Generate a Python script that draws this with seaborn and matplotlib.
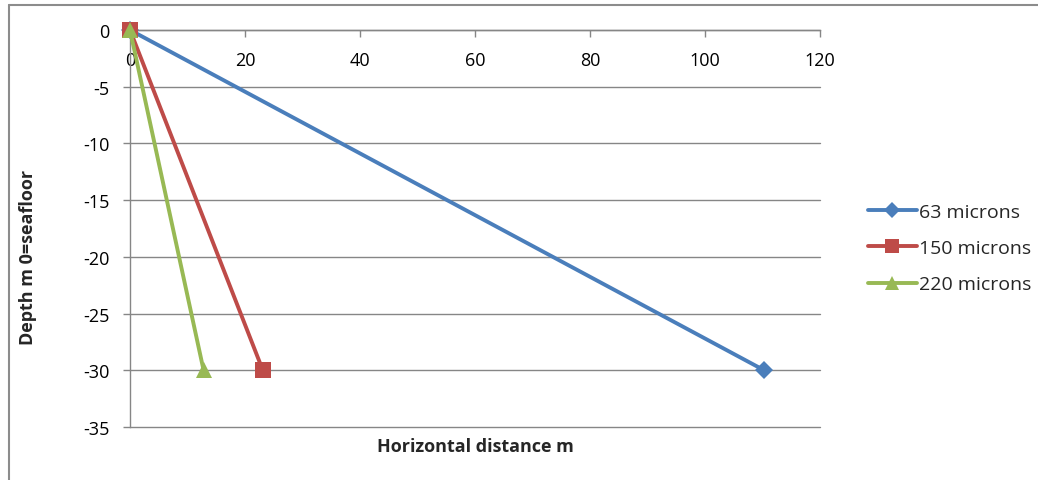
import matplotlib
matplotlib.use("Agg")
import matplotlib.pyplot as plt
import seaborn as sns
import pandas as pd
from matplotlib.lines import Line2D

# Settling paths of sand grains by size
series_names = ["63 microns", "150 microns", "220 microns"]
start_distance = [0.0, 0.0, 0.0]
end_distance = [110.3, 23.1, 12.8]
start_depth = [0, 0, 0]
end_depth = [-30, -30, -30]

x_ticks = [0, 20, 40, 60, 80, 100, 120]
y_ticks = [0, -5, -10, -15, -20, -25, -30, -35]

rows = []
for name, x0, x1, y0, y1 in zip(series_names, start_distance, end_distance,
                                start_depth, end_depth):
    rows.append({"size": name, "distance": x0, "depth": y0})
    rows.append({"size": name, "distance": x1, "depth": y1})
df = pd.DataFrame(rows)

sns.set_theme(style="white")
plt.rcParams["font.family"] = ["Open Sans", "DejaVu Sans"]

palette = {"63 microns": "#4A7EBB", "150 microns": "#BE4B48", "220 microns": "#98B954"}
markers = {"63 microns": "D", "150 microns": "s", "220 microns": "^"}
msizes = {"63 microns": 9, "150 microns": 12, "220 microns": 12}

fig = plt.figure(figsize=(10.38, 4.81), dpi=100)
ax = fig.add_axes([130 / 1038, 53 / 481, 690 / 1038, 397 / 481])

grid_color = "#868686"
for yv in y_ticks:
    ax.axhline(yv, color=grid_color, lw=1.0, zorder=0)

for name in series_names:
    sub = df[df["size"] == name]
    sns.lineplot(data=sub, x="distance", y="depth", color=palette[name],
                 marker=markers[name], markersize=msizes[name],
                 markeredgewidth=0, linewidth=2.8, ax=ax, label=name,
                 sort=False, estimator=None, zorder=3)

ax.set_xlim(0, 120)
ax.set_ylim(-35, 0)
ax.set_xticks(x_ticks)
ax.set_yticks(y_ticks)
ax.set_xticklabels([str(v) for v in x_ticks])
ax.set_yticklabels([str(v) for v in y_ticks])

for s in ["top", "right"]:
    ax.spines[s].set_visible(False)
ax.spines["bottom"].set_position(("data", 0))
ax.spines["bottom"].set_color(grid_color)
ax.spines["left"].set_color(grid_color)
ax.spines["bottom"].set_linewidth(1.0)
ax.spines["left"].set_linewidth(1.0)
for ln in ax.lines:
    ln.set_clip_on(False)

ax.tick_params(axis="x", direction="out", length=5, width=1, color=grid_color,
               pad=10, labelsize=13, labelcolor="black", bottom=True)
ax.tick_params(axis="y", direction="out", length=5, width=1, color=grid_color,
               pad=10, labelsize=13, labelcolor="black", left=True)

ax.set_xlabel("Horizontal distance m", fontsize=13, fontweight="bold")
ax.set_ylabel("Depth m 0=seafloor", fontsize=13, fontweight="bold")
ax.xaxis.set_label_coords(0.5, -0.025)
ax.yaxis.set_label_coords(-0.135, 0.43)

handles = [Line2D([0], [0], color=palette[n], lw=2.8, marker=markers[n],
                  markersize=msizes[n] * 0.85, markeredgewidth=0)
           for n in series_names]
leg = ax.legend(handles, series_names, loc="center left",
                bbox_to_anchor=(868 / 1038, 232 / 481),
                bbox_transform=fig.transFigure, frameon=False, fontsize=14,
                handlelength=2.5, handletextpad=0.1, labelspacing=0.95,
                borderpad=0, borderaxespad=0)

# Chart border: only the top and left edges fall inside the image
fig.add_artist(Line2D([9 / 1038, 9 / 1038], [0, 1 - 6 / 481],
                      transform=fig.transFigure, color="#8c8c8c", lw=1.5))
fig.add_artist(Line2D([9 / 1038, 1], [1 - 6 / 481, 1 - 6 / 481],
                      transform=fig.transFigure, color="#8c8c8c", lw=1.5))

fig.savefig("out.png", dpi=100)
